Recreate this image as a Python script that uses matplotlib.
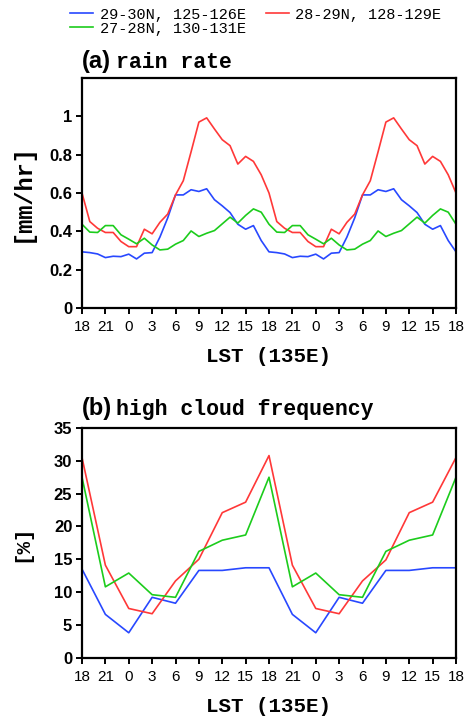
import matplotlib
matplotlib.use("Agg")
import matplotlib.pyplot as plt
import numpy as np

# ---------------- data ----------------
hours_rain = list(range(0, 49))          # hours since 18 LST
hours_cloud = list(range(0, 49, 3))
tick_pos = list(range(0, 49, 3))
tick_labels = ["18", "21", "0", "3", "6", "9", "12", "15",
               "18", "21", "0", "3", "6", "9", "12", "15", "18"]

labels = ["29-30N, 125-126E", "28-29N, 128-129E", "27-28N, 130-131E"]

rain_blue = [0.293, 0.289, 0.282, 0.263, 0.270, 0.268, 0.281, 0.256, 0.286, 0.289,
             0.370, 0.470, 0.590, 0.590, 0.617, 0.608, 0.622, 0.565, 0.533, 0.498,
             0.437, 0.411, 0.430, 0.352, 0.293,
             0.289, 0.282, 0.263, 0.270, 0.268, 0.281, 0.256, 0.286, 0.289,
             0.370, 0.470, 0.590, 0.590, 0.617, 0.608, 0.622, 0.565, 0.533, 0.498,
             0.437, 0.411, 0.430, 0.352, 0.293]
rain_red = [0.600, 0.451, 0.416, 0.394, 0.394, 0.347, 0.320, 0.320, 0.411, 0.387,
            0.447, 0.490, 0.590, 0.664, 0.815, 0.970, 0.992, 0.934, 0.878, 0.847,
            0.751, 0.791, 0.765, 0.695, 0.600,
            0.451, 0.416, 0.394, 0.394, 0.347, 0.320, 0.320, 0.411, 0.387,
            0.447, 0.490, 0.590, 0.664, 0.815, 0.970, 0.992, 0.934, 0.878, 0.847,
            0.751, 0.791, 0.765, 0.695, 0.600]
rain_green = [0.437, 0.396, 0.394, 0.430, 0.430, 0.382, 0.359, 0.335, 0.364, 0.329,
              0.303, 0.307, 0.333, 0.352, 0.402, 0.373, 0.390, 0.404, 0.439, 0.474,
              0.443, 0.483, 0.517, 0.500, 0.437,
              0.396, 0.394, 0.430, 0.430, 0.382, 0.359, 0.335, 0.364, 0.329,
              0.303, 0.307, 0.333, 0.352, 0.402, 0.373, 0.390, 0.404, 0.439, 0.474,
              0.443, 0.483, 0.517, 0.500, 0.437]

cloud_blue = [13.5, 6.6, 3.8, 9.2, 8.3, 13.3, 13.3, 13.7, 13.7,
              6.6, 3.8, 9.2, 8.3, 13.3, 13.3, 13.7, 13.7]
cloud_red = [30.5, 14.1, 7.5, 6.7, 11.7, 15.0, 22.1, 23.7, 30.8,
             14.1, 7.5, 6.7, 11.7, 14.9, 22.1, 23.7, 30.5]
cloud_green = [27.5, 10.8, 12.9, 9.6, 9.2, 16.2, 17.9, 18.7, 27.5,
               10.8, 12.9, 9.6, 9.2, 16.2, 17.9, 18.7, 27.5]

colors = ["#2848ff", "#ff3838", "#1ccc1c"]

# ---------------- figure ----------------
W, H = 468, 716
fig = plt.figure(figsize=(W / 100, H / 100), dpi=100)

def frac_box(left, top, right, bottom):
    return [left / W, 1 - bottom / H, (right - left) / W, (bottom - top) / H]

ax1 = fig.add_axes(frac_box(82, 78, 456, 308))
ax2 = fig.add_axes(frac_box(82, 428, 456, 657.7))

mono = "Liberation Mono"
sans = "Liberation Sans"
lw = 1.2

l_blue, = ax1.plot(hours_rain, rain_blue, color=colors[0], lw=lw, label=labels[0])
l_red, = ax1.plot(hours_rain, rain_red, color=colors[1], lw=lw, label=labels[1])
l_green, = ax1.plot(hours_rain, rain_green, color=colors[2], lw=lw, label=labels[2])

ax2.plot(hours_cloud, cloud_blue, color=colors[0], lw=lw)
ax2.plot(hours_cloud, cloud_red, color=colors[1], lw=lw)
ax2.plot(hours_cloud, cloud_green, color=colors[2], lw=lw)

ax1.set_ylim(0, 1.2)
ax1.set_yticks([0, 0.2, 0.4, 0.6, 0.8, 1.0])
ax1.set_yticklabels(["0", "0.2", "0.4", "0.6", "0.8", "1"])
ax2.set_ylim(0, 35)
ax2.set_yticks([0, 5, 10, 15, 20, 25, 30, 35])

for ax in (ax1, ax2):
    ax.set_xlim(0, 48)
    ax.set_xticks(tick_pos)
    ax.set_xticklabels(tick_labels)
    for s in ax.spines.values():
        s.set_linewidth(1.6)
    ax.tick_params(axis="both", direction="out", length=4.5, width=1.4)
    ax.tick_params(axis="x", pad=4)
    ax.tick_params(axis="y", pad=2.5)
    for t in ax.get_xticklabels():
        t.set_fontfamily(sans)
        t.set_fontsize(11)
    for t in ax.get_yticklabels():
        t.set_fontfamily(sans)
        t.set_fontweight("bold")
        t.set_fontsize(12)
    ax.set_xlabel("LST (135E)", fontfamily=mono, fontweight="bold",
                  fontsize=15, va="baseline")
    ax.xaxis.set_label_coords(0.5, -0.235)

ax1.set_ylabel("[mm/hr]", fontfamily=mono, fontweight="bold", fontsize=17, va="center")
ax1.yaxis.set_label_coords(-0.16, 0.5)
ax2.set_ylabel("[%]", fontfamily=mono, fontweight="bold", fontsize=15, va="center")
ax2.yaxis.set_label_coords(-0.16, 0.5)

# titles
def title(ax, tag, txt, base_px_above):
    off = base_px_above / (ax.get_position().height * H)
    ax.text(0.0, 1 + off, tag, transform=ax.transAxes, fontfamily=sans,
            fontweight="bold", fontsize=17, va="baseline", ha="left")
    ax.text(34 / 374, 1 + off, txt, transform=ax.transAxes, fontfamily=mono,
            fontweight="bold", fontsize=15.5, va="baseline", ha="left")

title(ax1, "(a)", "rain rate", 10)
title(ax2, "(b)", "high cloud frequency", 13)

# legend
fig.legend(handles=[l_blue, l_green, l_red], labels=[labels[0], labels[2], labels[1]],
           ncol=2, loc="upper left", bbox_to_anchor=(70 / W, 1 - 7.5 / H),
           frameon=False, prop={"family": mono, "size": 11},
           handlelength=1.5, handletextpad=0.45, columnspacing=1.3,
           labelspacing=0.0, borderpad=0, borderaxespad=0)

fig.savefig("out.png", dpi=100)
